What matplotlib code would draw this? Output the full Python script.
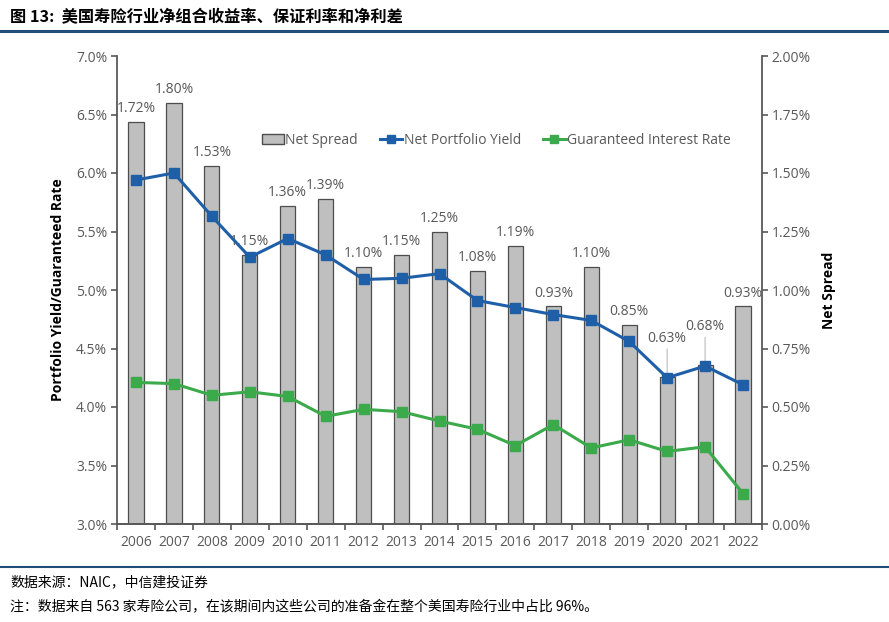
import matplotlib
matplotlib.use("Agg")
import matplotlib.pyplot as plt
from matplotlib.patches import Patch
from matplotlib.lines import Line2D
from matplotlib.ticker import FuncFormatter, MultipleLocator
import numpy as np

plt.rcParams['font.family'] = ['Open Sans', 'Noto Sans CJK SC', 'DejaVu Sans']

years = [str(y) for y in range(2006, 2023)]
net_spread = [1.72, 1.80, 1.53, 1.15, 1.36, 1.39, 1.10, 1.15, 1.25, 1.08, 1.19, 0.93, 1.10, 0.85, 0.63, 0.68, 0.93]
net_yield = [5.94, 6.00, 5.63, 5.28, 5.44, 5.30, 5.09, 5.10, 5.14, 4.91, 4.85, 4.79, 4.74, 4.56, 4.25, 4.35, 4.19]
guaranteed = [4.21, 4.20, 4.10, 4.13, 4.09, 3.92, 3.98, 3.96, 3.88, 3.81, 3.67, 3.85, 3.65, 3.72, 3.62, 3.66, 3.26]

title = "图 13:  美国寿险行业净组合收益率、保证利率和净利差"
source = "数据来源：NAIC，中信建投证券"
note = "注：数据来自 563 家寿险公司，在该期间内这些公司的准备金在整个美国寿险行业中占比 96%。"

gray_txt = '#595959'
bar_col = '#BFBFBF'
blue = '#1F5FA8'
green = '#3AAA4A'

fig = plt.figure(figsize=(8.89, 6.22), dpi=100)
ax = fig.add_axes([117/889, 1-524/622, (762-117)/889, (524-56)/622])
ax2 = ax.twinx()

x = np.arange(len(years))
ax2.bar(x, net_spread, width=0.4, color=bar_col, edgecolor='#4D4D4D', linewidth=0.9, zorder=2)
ax2.set_ylim(0, 2.0)
ax2.yaxis.set_major_locator(MultipleLocator(0.25))
ax2.yaxis.set_major_formatter(FuncFormatter(lambda v, p: f"{v:.2f}%"))

ax.set_zorder(ax2.get_zorder() + 1)
ax.patch.set_visible(False)
ax.plot(x, net_yield, color=blue, lw=2.2, marker='s', ms=7, zorder=5)
ax.plot(x, guaranteed, color=green, lw=2.2, marker='s', ms=7, zorder=5)
ax.set_ylim(3.0, 7.0)
ax.set_xlim(-0.5, len(years) - 0.5)
ax.yaxis.set_major_locator(MultipleLocator(0.5))
ax.yaxis.set_major_formatter(FuncFormatter(lambda v, p: f"{v:.1f}%"))

# labels on bars
for i, v in enumerate(net_spread):
    lab = f"{v:.2f}%"
    if years[i] in ('2020', '2021'):
        ax2.annotate(lab, xy=(i, v + 0.01), xytext=(i, v + 0.13), ha='center', va='bottom',
                     fontsize=10, color=gray_txt,
                     arrowprops=dict(arrowstyle='-', color='#BBBBBB', lw=0.8, shrinkA=0, shrinkB=0),
                     zorder=6)
    else:
        ax2.text(i, v + 0.025, lab, ha='center', va='bottom', fontsize=10, color=gray_txt, zorder=6)

# axes styling
for a in (ax, ax2):
    a.spines['top'].set_visible(False)
    for s in ('left', 'right', 'bottom'):
        a.spines[s].set_color('#595959')
        a.spines[s].set_linewidth(1.3)
ax.spines['right'].set_visible(False)
ax2.spines['left'].set_visible(False)

ax.tick_params(axis='y', direction='out', length=4, width=1.2, color='#595959', labelsize=10, labelcolor=gray_txt, pad=3)
ax2.tick_params(axis='y', direction='out', length=4, width=1.2, color='#595959', labelsize=10, labelcolor=gray_txt, pad=3)
ax.set_xticks(x)
ax.set_xticklabels(years)
ax.set_xticks(np.arange(-0.5, len(years), 1.0), minor=True)
ax.tick_params(axis='x', which='major', length=0, labelsize=10, labelcolor=gray_txt, pad=8)
ax.tick_params(axis='x', which='minor', direction='out', length=4, width=1.2, color='#595959')

ax.set_ylabel("Portfolio Yield/Guaranteed Rate", fontsize=10, fontweight='bold', color='black', labelpad=8)
ax2.set_ylabel("Net Spread", fontsize=10, fontweight='bold', color='black', rotation=90, labelpad=8)

handles = [Patch(facecolor=bar_col, edgecolor='#4D4D4D'),
           Line2D([], [], color=blue, lw=2.2, marker='s', ms=6),
           Line2D([], [], color=green, lw=2.2, marker='s', ms=6)]
leg = ax.legend(handles, ['Net Spread', 'Net Portfolio Yield', 'Guaranteed Interest Rate'],
                loc='center', bbox_to_anchor=(0.588, 0.82), ncol=3, frameon=False,
                fontsize=10, handlelength=1.6, handletextpad=0.1, columnspacing=1.6)
for t in leg.get_texts():
    t.set_color(gray_txt)

# title and rules
fig.text(10/889, 1-17/622, title, fontsize=11.7, fontweight='bold', ha='left', va='center',
         family=['Noto Sans CJK SC', 'DejaVu Sans'])
fig.add_artist(Line2D([0, 1], [1-31/622, 1-31/622], color='#1F4E79', lw=2.2, transform=fig.transFigure))
fig.add_artist(Line2D([0, 1], [1-567/622, 1-567/622], color='#1F4E79', lw=1.5, transform=fig.transFigure))
fig.text(10/889, 1-582/622, source, fontsize=10, style='italic', ha='left', va='center',
         family=['Noto Sans CJK SC', 'DejaVu Sans'])
fig.text(10/889, 1-607/622, note, fontsize=10, style='italic', ha='left', va='center',
         family=['Noto Sans CJK SC', 'DejaVu Sans'])

fig.savefig('out.png', dpi=100)
